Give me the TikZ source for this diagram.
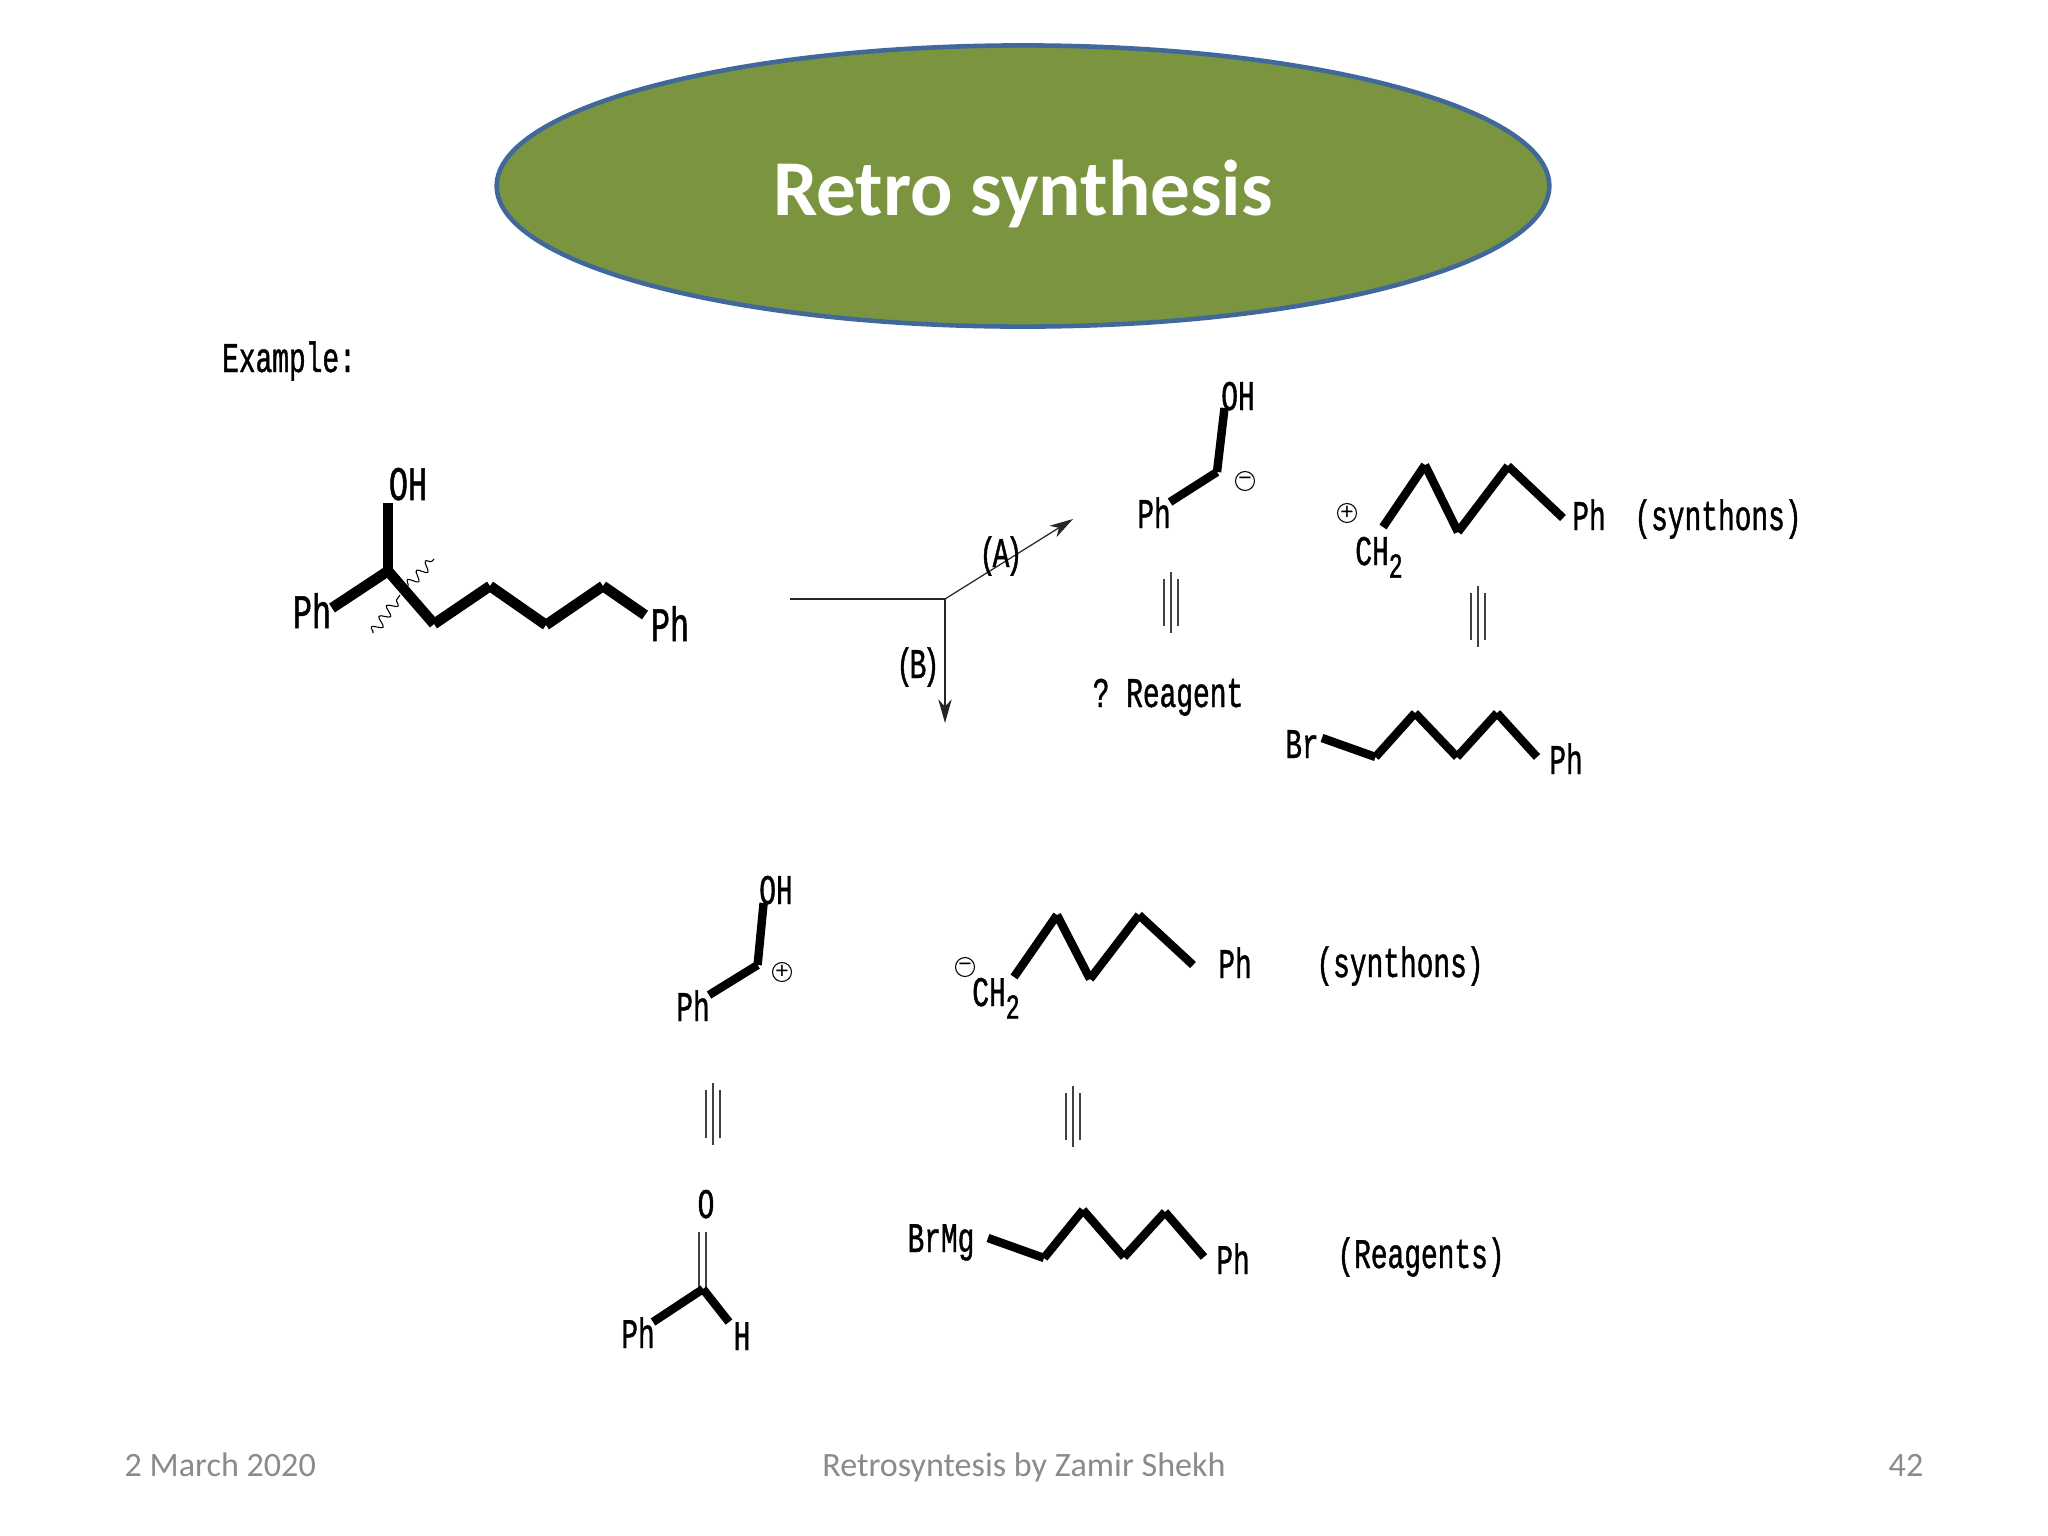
\documentclass[tikz,border=0pt]{standalone}
\usepackage{fontspec}
\usetikzlibrary{arrows.meta,decorations.pathmorphing,shapes.geometric}
\setmainfont{Carlito}
\newfontfamily\gothic[FakeStretch=0.66,FakeBold=1]{Liberation Mono}
\newfontfamily\plain{Liberation Sans}
\definecolor{ovalfill}{HTML}{7A943F}
\definecolor{ovalline}{HTML}{41689A}
\definecolor{footgray}{HTML}{8B8B8B}
\tikzset{
  bond/.style={line width=2.4pt,line cap=butt},
  bigbond/.style={line width=3pt,line cap=butt},
  hairline/.style={line width=0.35pt,black!75},
  chem/.style={font=\gothic\fontsize{12}{12}\selectfont,anchor=base,inner sep=0pt,text=black},
  bigchem/.style={font=\gothic\fontsize{13.7}{13.7}\selectfont,anchor=base,inner sep=0pt,text=black},
  charge/.style={circle,draw,line width=0.3pt,inner sep=0pt,minimum size=5.4pt,font=\plain\fontsize{6.5}{6.5}\selectfont},
  foot/.style={font=\fontsize{9.7}{9.7}\selectfont,text=footgray,inner sep=0pt},
  rxn/.style={line width=0.35pt,black!85,-{Stealth[length=6.7pt,width=3.8pt,inset=2pt]}},
  wavyline/.style={line width=0.3pt,decorate,decoration={snake,amplitude=1.4pt,segment length=3.7pt}}
}
\newcommand{\subtwo}{\raisebox{-0.3em}{\fontsize{10}{10}\selectfont 2}}
\newcommand{\triplebar}[3]{%
  \draw[hairline] (#1-7,#2+7) -- (#1-7,#3-7);
  \draw[hairline] (#1,#2) -- (#1,#3);
  \draw[hairline] (#1+7,#2+7) -- (#1+7,#3-7);
}
\begin{document}
\begin{tikzpicture}[x=0.01cm,y=-0.01cm]
\useasboundingbox (0,0) rectangle (2048,1536);
\fill[white] (0,0) rectangle (2048,1536);

% Title
\node[ellipse,draw=ovalline,fill=ovalfill,line width=1.3pt,minimum width=10.52cm,minimum height=2.81cm,inner sep=0pt] (oval) at (1023,186) {};
\node[font=\bfseries\fontsize{22.5}{22.5}\selectfont,text=white,anchor=base,inner sep=0pt] (title) at (1023,215) {Retro synthesis};

\node[chem] (example) at (289,372) {Example:};

% Target molecule
\draw[wavyline] (373,633) -- (400,595);
\draw[wavyline] (408,586) -- (434,559);
\draw[bigbond] (388,503) -- (388,571);
\draw[bigbond] (332,608) -- (388,571) (388,571) -- (434,624) (434,624) -- (490,586) (490,586) -- (546,625) (546,625) -- (603,586) (603,586) -- (645,615);
\node[bigchem] (t1) at (408,500) {OH};
\node[bigchem] (t2) at (312,628) {Ph};
\node[bigchem] (t3) at (670,641) {Ph};

% Disconnection arrows
\coordinate (start) at (790,599);
\coordinate (fork) at (945,599);
\coordinate (tipa) at (1073,519);
\coordinate (tipb) at (945,723);
\draw[line width=0.35pt,black!85] (start) -- (fork);
\draw[rxn] (fork) -- (tipa);
\draw[rxn] (fork) -- (tipb);
\node[chem] (labela) at (1001,567) {(\kern-1pt A\kern-1pt)};
\node[chem] (labelb) at (918,678) {(\kern-1pt B\kern-1pt)};

% Route A synthons
\draw[bond] (1224.5,408) -- (1217,472) (1217,472) -- (1170,502);
\node[chem] (a1) at (1238,410) {OH};
\node[chem] (a2) at (1154,528) {Ph};
\node[charge] (a3) at (1245,481) {−};
\node[charge] (a4) at (1347,513) {+};
\draw[bond] (1383,527) -- (1425,465) (1425,465) -- (1458,532) (1458,532) -- (1508,466) (1508,466) -- (1563,518);
\node[chem] (a5) at (1379,565) {CH\subtwo};
\node[chem] (a6) at (1589,530) {Ph};
\node[chem] (a7) at (1718,530) {(synthons)};
\triplebar{1171}{572}{633}
\triplebar{1478}{586}{647}
\node[chem] (a8) at (1168,707) {?\ Reagent};
\draw[bond] (1322,738) -- (1375.5,757) (1375.5,757) -- (1415,713) (1415,713) -- (1457,757) (1457,757) -- (1497,713) (1497,713) -- (1537,757);
\node[chem] (a9) at (1302,758) {Br};
\node[chem] (a10) at (1566,774) {Ph};

% Route B synthons
\draw[bond] (763.6,903) -- (757.6,965) (757.6,965) -- (709,995);
\node[chem] (b1) at (776,904) {OH};
\node[chem] (b2) at (693,1021) {Ph};
\node[charge] (b3) at (782,972) {+};
\node[charge] (b4) at (965,967) {−};
\draw[bond] (1014,977) -- (1057,915) (1057,915) -- (1090,979) (1090,979) -- (1139,915) (1139,915) -- (1193,965);
\node[chem] (b5) at (996,1006) {CH\subtwo};
\node[chem] (b6) at (1235,978) {Ph};
\node[chem] (b7) at (1400,977) {(synthons)};
\triplebar{713}{1083}{1145}
\triplebar{1073}{1086}{1147}

% Reagents
\node[chem] (b8) at (706,1218) {O};
\draw[hairline] (699,1232) -- (699,1289);
\draw[hairline] (706,1232) -- (706,1289);
\draw[bond] (653,1322) -- (703,1289) (703,1289) -- (729,1322);
\node[chem] (b9) at (638,1348) {Ph};
\node[chem] (b10) at (742,1350) {H};
\draw[bond] (988,1238) -- (1044,1258) (1044,1258) -- (1083,1210) (1083,1210) -- (1124,1257) (1124,1257) -- (1165,1212) (1165,1212) -- (1204,1257);
\node[chem] (b11) at (941,1252) {BrMg};
\node[chem] (b12) at (1233,1274) {Ph};
\node[chem] (b13) at (1421,1268) {(Reagents)};

% Footer
\node[foot,anchor=base west] (f1) at (124,1476) {2 March 2020};
\node[foot,anchor=base] (f2) at (1024,1476) {Retrosyntesis by Zamir Shekh};
\node[foot,anchor=base east] (f3) at (1924,1476) {42};
\end{tikzpicture}
\end{document}
